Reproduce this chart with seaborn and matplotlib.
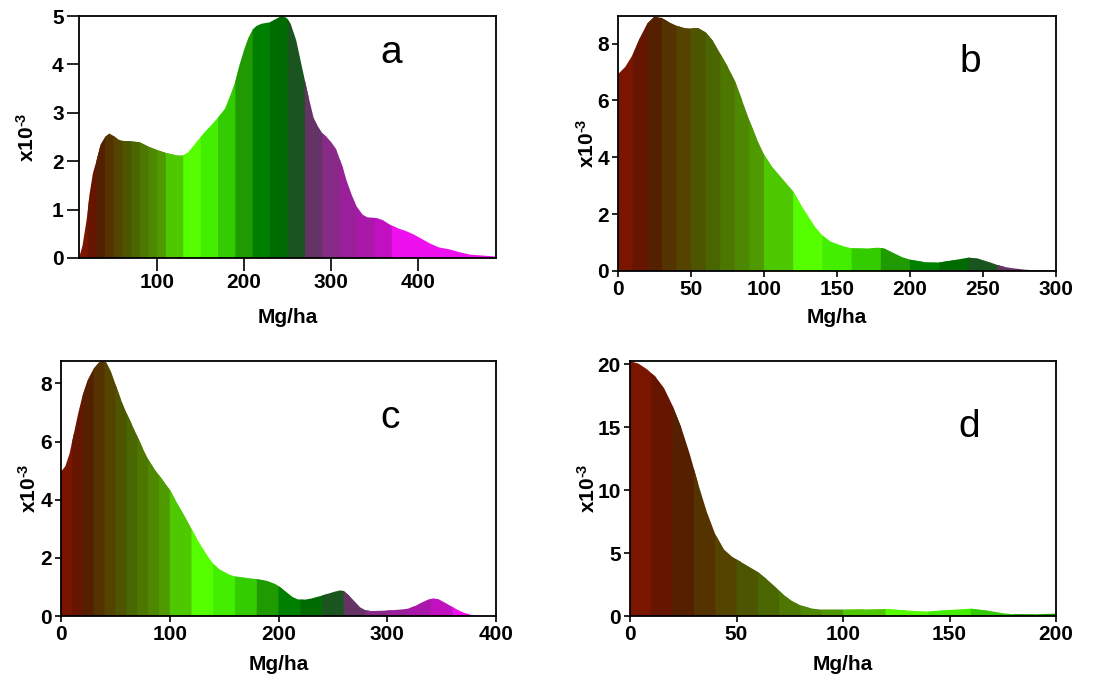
import numpy as np
import matplotlib
matplotlib.use("Agg")
import matplotlib.pyplot as plt
import seaborn as sns

# Colour of each biomass class (same order in every panel)
class_colors = ['#7a1500', '#661500', '#552000', '#553300', '#554400', '#4d5500',
                '#4a6600', '#4d7700', '#4e8800', '#4f9a00', '#4ec800', '#55ff00',
                '#44ee00', '#33cc00', '#1f9a00', '#008000', '#006b00', '#1a5520',
                '#663366', '#882a88', '#9a1f9a', '#aa18aa', '#c010c0', '#ee10ee',
                '#ff00ff']

# Class edges per panel (Mg/ha)
edges_a = [10, 20, 30, 40, 50, 60, 70, 80, 90, 100, 110, 130, 150, 170, 190, 210,
           230, 250, 270, 290, 310, 330, 350, 370, 490]
edges_b = [0, 10, 20, 30, 40, 50, 60, 70, 80, 90, 100, 120, 140, 160, 180, 200,
           220, 240, 260, 280, 300]
edges_c = [0, 10, 20, 30, 40, 50, 60, 70, 80, 90, 100, 120, 140, 160, 180, 200,
           220, 240, 260, 280, 300, 320, 340, 360, 380, 400]
edges_d = [0, 10, 20, 30, 40, 50, 60, 70, 80, 90, 100, 120, 140, 160, 180, 200]

# Density curves (x in Mg/ha, y in 1e-3), read at the class edges and in between
a_x = [10, 14, 18, 20, 22, 26, 30, 35, 40, 45, 50, 55, 60, 70, 80, 90, 100, 110, 120,
       125, 130, 135, 140, 150, 160, 170, 178, 185, 190, 195, 200, 205, 210, 215, 220,
       230, 236, 243, 248, 250, 254, 260, 266, 270, 274, 280, 285, 290, 295, 300, 306,
       310, 314, 318, 324, 330, 336, 342, 350, 355, 360, 365, 370, 376, 386, 396, 404,
       414, 424, 436, 448, 460, 475, 490]
a_y = [0.0, 0.25, 0.7, 0.95, 1.3, 1.75, 2.0, 2.35, 2.5, 2.57, 2.52, 2.45, 2.42, 2.41,
       2.39, 2.3, 2.23, 2.17, 2.13, 2.12, 2.12, 2.17, 2.28, 2.5, 2.7, 2.9, 3.08, 3.4,
       3.65, 4.0, 4.3, 4.55, 4.72, 4.8, 4.84, 4.87, 4.93, 5.0, 4.97, 4.94, 4.82, 4.5,
       4.0, 3.67, 3.35, 2.9, 2.72, 2.58, 2.5, 2.4, 2.25, 2.05, 1.85, 1.6, 1.3, 1.05,
       0.9, 0.84, 0.83, 0.81, 0.78, 0.72, 0.67, 0.62, 0.56, 0.48, 0.4, 0.3, 0.22, 0.18,
       0.12, 0.07, 0.05, 0.03]

b_x = [0, 5, 10, 15, 20, 25, 30, 35, 40, 45, 50, 55, 60, 65, 70, 75, 80, 85, 90, 95,
       100, 105, 110, 115, 120, 125, 130, 135, 140, 145, 150, 155, 160, 170, 178, 180,
       183, 190, 195, 200, 210, 220, 230, 240, 247, 255, 260, 265, 270, 280, 290, 300]
b_y = [6.92, 7.18, 7.6, 8.2, 8.7, 8.95, 8.9, 8.75, 8.63, 8.55, 8.53, 8.55, 8.4, 8.1,
       7.65, 7.2, 6.7, 6.0, 5.3, 4.65, 4.1, 3.7, 3.4, 3.1, 2.8, 2.35, 1.95, 1.55, 1.25,
       1.05, 0.95, 0.86, 0.8, 0.79, 0.82, 0.81, 0.78, 0.6, 0.48, 0.4, 0.31, 0.3, 0.38,
       0.47, 0.43, 0.3, 0.21, 0.14, 0.1, 0.04, 0.02, 0.02]

c_x = [0, 4, 8, 10, 12, 16, 20, 25, 30, 35, 38, 40, 42, 46, 50, 55, 60, 65, 70, 75, 80,
       85, 90, 95, 100, 105, 110, 115, 120, 125, 130, 135, 140, 145, 150, 155, 160, 170,
       180, 190, 197, 200, 203, 208, 213, 218, 220, 224, 230, 238, 240, 245, 252, 257,
       260, 265, 270, 275, 280, 285, 295, 300, 305, 315, 320, 326, 332, 338, 340, 343,
       347, 352, 360, 364, 370, 376, 380, 386, 400]
c_y = [4.96, 5.15, 5.6, 5.95, 6.3, 7.0, 7.6, 8.15, 8.5, 8.72, 8.78, 8.75, 8.7, 8.4,
       7.98, 7.45, 7.0, 6.6, 6.2, 5.78, 5.4, 5.1, 4.85, 4.6, 4.35, 4.0, 3.68, 3.35, 3.0,
       2.65, 2.35, 2.05, 1.8, 1.62, 1.52, 1.42, 1.36, 1.31, 1.27, 1.2, 1.1, 1.03, 0.95,
       0.8, 0.65, 0.57, 0.565, 0.56, 0.6, 0.68, 0.7, 0.76, 0.84, 0.88, 0.86, 0.7, 0.5,
       0.3, 0.2, 0.17, 0.18, 0.19, 0.2, 0.23, 0.26, 0.35, 0.47, 0.57, 0.585, 0.6, 0.58,
       0.48, 0.31, 0.22, 0.12, 0.05, 0.02, 0.0, 0.0]

d_x = [0, 4, 8, 10, 12, 16, 20, 24, 28, 30, 32, 36, 40, 44, 48, 50, 52, 56, 60, 64, 68,
       70, 72, 76, 80, 85, 90, 100, 110, 120, 130, 140, 150, 160, 168, 175, 180, 190,
       200]
d_y = [20.25, 20.05, 19.6, 19.3, 19.0, 18.1, 16.7, 15.0, 12.9, 11.7, 10.5, 8.3, 6.5,
       5.3, 4.7, 4.5, 4.3, 3.9, 3.5, 2.95, 2.35, 2.02, 1.7, 1.2, 0.85, 0.6, 0.5, 0.5,
       0.52, 0.56, 0.43, 0.35, 0.48, 0.58, 0.42, 0.22, 0.14, 0.13, 0.19]

letters = ['a', 'b', 'c', 'd']

sns.set_theme(style="ticks")
plt.rcParams['font.family'] = ['Liberation Sans', 'DejaVu Sans']
plt.rcParams['mathtext.fontset'] = 'custom'
plt.rcParams['mathtext.rm'] = 'Liberation Sans:bold'
plt.rcParams['mathtext.bf'] = 'Liberation Sans:bold'
plt.rcParams['mathtext.default'] = 'bf'

W, H = 1096, 681
fig = plt.figure(figsize=(W / 100, H / 100), dpi=100)


def box(l, t, r, b):
    return [l / W, (H - b) / H, (r - l) / W, (b - t) / H]


panels = [
    dict(x=a_x, y=a_y, edges=edges_a, pos=box(79, 16, 496, 258), xlim=(10, 490),
         ylim=(0, 5), xt=[100, 200, 300, 400], yt=[0, 1, 2, 3, 4, 5], tl=9,
         ylab=(-0.125, 0.5), xlab=(0.5, -0.205), let=(0.748, 0.806)),
    dict(x=b_x, y=b_y, edges=edges_b, pos=box(618, 16, 1056, 271), xlim=(0, 300),
         ylim=(0, 8.97), xt=[0, 50, 100, 150, 200, 250, 300], yt=[0, 2, 4, 6, 8], tl=4.5,
         ylab=(-0.072, 0.5), xlab=(0.5, -0.145), let=(0.804, 0.78)),
    dict(x=c_x, y=c_y, edges=edges_c, pos=box(61, 361, 496, 616), xlim=(0, 400),
         ylim=(0, 8.77), xt=[0, 100, 200, 300, 400], yt=[0, 2, 4, 6, 8], tl=4.5,
         ylab=(-0.075, 0.5), xlab=(0.5, -0.153), let=(0.756, 0.737)),
    dict(x=d_x, y=d_y, edges=edges_d, pos=box(630, 361, 1056, 616), xlim=(0, 200),
         ylim=(0, 20.26), xt=[0, 50, 100, 150, 200], yt=[0, 5, 10, 15, 20], tl=4.5,
         ylab=(-0.1, 0.5), xlab=(0.5, -0.153), let=(0.796, 0.702)),
]

for p, letter in zip(panels, letters):
    ax = fig.add_axes(p['pos'])
    x = np.array(p['x'], dtype=float)
    y = np.array(p['y'], dtype=float)
    edges = p['edges']
    # one filled slice of the density curve per biomass class; each slice runs one
    # point into the next class, which is drawn on top of it (no white seams)
    for i in range(len(edges) - 1):
        lo = np.searchsorted(x, edges[i], side='left')
        hi = np.searchsorted(x, edges[i + 1], side='right') + 1
        ax.fill_between(x[lo:hi], y[lo:hi], 0, facecolor=class_colors[i],
                        edgecolor='none', linewidth=0)
    ax.set_xlim(*p['xlim'])
    ax.set_ylim(*p['ylim'])
    ax.set_xticks(p['xt'])
    ax.set_yticks(p['yt'])
    ax.set_facecolor('white')
    for s in ax.spines.values():
        s.set_color('black')
        s.set_linewidth(1.3)
        s.set_zorder(5)
    ax.tick_params(axis='both', length=p['tl'], width=1.2, color='black',
                   labelsize=15, pad=2, labelcolor='black')
    for lab in ax.get_xticklabels() + ax.get_yticklabels():
        lab.set_fontweight('bold')
    ax.set_xlabel('Mg/ha', fontsize=15, fontweight='bold', color='black', va='top')
    ax.xaxis.set_label_coords(*p['xlab'])
    ax.set_ylabel(r'x10$^{\text{-}3}$', fontsize=15, fontweight='bold', color='black',
                  va='center')
    ax.yaxis.set_label_coords(*p['ylab'])
    ax.text(p['let'][0], p['let'][1], letter, transform=ax.transAxes, ha='center',
            va='baseline', fontsize=28, color='black')

fig.savefig('out.png', dpi=100)
